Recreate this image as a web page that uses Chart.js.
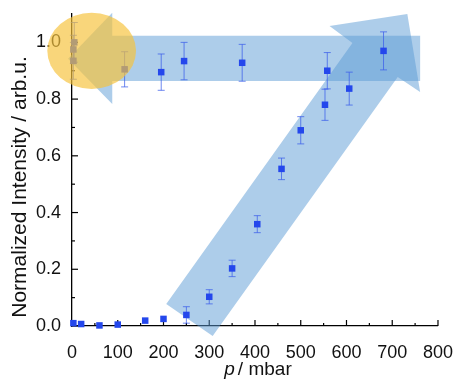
<!DOCTYPE html>
<html>
<head>
<meta charset="utf-8">
<script src="https://cdn.jsdelivr.net/npm/chart.js@4/dist/chart.umd.min.js"></script>
<style>
  html, body { margin: 0; padding: 0; background: #fff; }
</style>
</head>
<body>
<canvas id="myChart" width="461" height="383"></canvas>
<script>
// pressure going up
const upPressure  = [3, 20, 60, 100, 160, 200, 250, 300, 350, 405, 458, 500, 553, 606, 681];
const upIntensity = [0.01, 0.007, 0.002, 0.005, 0.019, 0.025, 0.039, 0.103, 0.203, 0.359, 0.554, 0.69, 0.78, 0.837, 0.97];
const upError     = [0, 0, 0, 0, 0, 0, 0.029, 0.025, 0.029, 0.03, 0.038, 0.048, 0.055, 0.058, 0.067];

// pressure going down
const downPressure  = [3, 3, 5, 115, 195, 245, 372, 558];
const downIntensity = [0.935, 0.975, 1.0, 0.905, 0.895, 0.934, 0.928, 0.9];
const downError     = [0.065, 0.05, 0.07, 0.062, 0.064, 0.066, 0.065, 0.064];

const xMajor = [0, 100, 200, 300, 400, 500, 600, 700, 800];
const yMajor = [0, 0.2, 0.4, 0.6, 0.8, 1.0];

// highlight shapes (in mbar / arb.u.)
const leftArrow = [[761, 1.023], [88, 1.023], [88, 1.104], [-8.6, 0.942], [88, 0.783], [88, 0.864], [761, 0.864]];
const upArrow   = [[206, 0.078], [613, 0.998], [563, 1.058], [733, 1.10], [761, 0.825], [712, 0.878], [307.5, -0.035]];
const ring      = { x: 43, y: 0.97, rx: 97, ry: 0.134 };

const FONT = "'Liberation Sans', Arial, sans-serif";

const toXY = (xs, ys) => xs.map((v, i) => ({ x: v, y: ys[i] }));

const extras = {
    id: 'extras',
    beforeDatasetsDraw(chart) {
        const { ctx, scales: { x, y } } = chart;
        ctx.save();

        // inward ticks
        ctx.strokeStyle = '#000';
        ctx.lineWidth = 1.2;
        const x0 = x.left, y0 = y.bottom;
        for (let v = 0; v <= 800; v += 50) {
            const px = x.getPixelForValue(v);
            const len = v % 100 === 0 ? 6 : 3;
            ctx.beginPath(); ctx.moveTo(px, y0); ctx.lineTo(px, y0 - len); ctx.stroke();
        }
        for (let k = 0; k <= 10; k++) {
            const py = y.getPixelForValue(k / 10);
            const len = k % 2 === 0 ? 6 : 3;
            ctx.beginPath(); ctx.moveTo(x0, py); ctx.lineTo(x0 + len, py); ctx.stroke();
        }

        // blue arrows
        ctx.fillStyle = 'rgba(91,155,213,0.5)';
        [leftArrow, upArrow].forEach(shape => {
            ctx.beginPath();
            shape.forEach(([a, b], i) => {
                const X = x.getPixelForValue(a), Y = y.getPixelForValue(b);
                i ? ctx.lineTo(X, Y) : ctx.moveTo(X, Y);
            });
            ctx.closePath();
            ctx.fill();
        });

        // error bars
        ctx.strokeStyle = 'rgba(60,95,235,0.75)';
        ctx.lineWidth = 1;
        chart.data.datasets.forEach(ds => {
            ds.data.forEach((p, i) => {
                const e = ds.errors[i];
                if (!e) return;
                const px = x.getPixelForValue(p.x);
                const top = y.getPixelForValue(p.y + e), bot = y.getPixelForValue(p.y - e);
                ctx.beginPath();
                ctx.moveTo(px, top); ctx.lineTo(px, bot);
                ctx.moveTo(px - 3.5, top); ctx.lineTo(px + 3.5, top);
                ctx.moveTo(px - 3.5, bot); ctx.lineTo(px + 3.5, bot);
                ctx.stroke();
            });
        });
        ctx.restore();
    },
    afterDatasetsDraw(chart) {
        const { ctx, scales: { x, y } } = chart;
        ctx.save();
        const cx = x.getPixelForValue(ring.x), cy = y.getPixelForValue(ring.y);
        const rx = x.getPixelForValue(ring.x + ring.rx) - cx;
        const ry = cy - y.getPixelForValue(ring.y + ring.ry);
        ctx.fillStyle = 'rgba(246,195,60,0.68)';
        ctx.beginPath();
        ctx.ellipse(cx, cy, rx, ry, 0, 0, Math.PI * 2);
        ctx.fill();

        // axis titles
        ctx.fillStyle = '#111';
        ctx.textBaseline = 'middle';
        ctx.font = 'italic 19px ' + FONT;
        const p = 'p', rest = '/ mbar';
        const wp = ctx.measureText(p).width;
        ctx.font = '19px ' + FONT;
        const wr = ctx.measureText(rest).width;
        const sx = 258 - (wp + 3 + wr) / 2;
        ctx.font = 'italic 19px ' + FONT;
        ctx.textAlign = 'left';
        ctx.fillText(p, sx, 370);
        ctx.font = '19px ' + FONT;
        ctx.fillText(rest, sx + wp + 3, 370);

        ctx.font = '21px ' + FONT;
        ctx.translate(20, 187);
        ctx.rotate(-Math.PI / 2);
        ctx.textAlign = 'center';
        ctx.fillText('Normalized Intensity / arb.u.', 0, 0);
        ctx.restore();
    }
};

const pointStyle = {
    showLine: false,
    pointStyle: 'rect',
    pointRadius: 4.6,
    pointHoverRadius: 4.6,
    backgroundColor: '#2447ec',
    borderColor: '#2447ec',
    borderWidth: 0,
    clip: false
};

new Chart(document.getElementById('myChart'), {
    type: 'scatter',
    data: {
        datasets: [
            { ...pointStyle, label: 'up', data: toXY(upPressure, upIntensity), errors: upError },
            { ...pointStyle, label: 'down', data: toXY(downPressure, downIntensity), errors: downError }
        ]
    },
    options: {
        responsive: false,
        animation: false,
        layout: { padding: { top: 14, right: 17, left: 0, bottom: 0 } },
        plugins: { legend: { display: false }, tooltip: { enabled: false } },
        scales: {
            x: {
                type: 'linear',
                min: 0,
                max: 800,
                afterFit: s => { s.height = 57; },
                afterBuildTicks: s => { s.ticks = xMajor.map(v => ({ value: v })); },
                grid: { display: false },
                border: { display: true, color: '#000', width: 1.3 },
                ticks: { color: '#111', padding: 8, maxRotation: 0, font: { family: FONT, size: 18 } }
            },
            y: {
                min: 0,
                max: 1.1,
                afterFit: s => { s.width = 72; },
                afterBuildTicks: s => { s.ticks = yMajor.map(v => ({ value: v })); },
                grid: { display: false },
                border: { display: true, color: '#000', width: 1.3 },
                ticks: {
                    color: '#111', padding: 3, font: { family: FONT, size: 18 },
                    callback: v => v.toFixed(1)
                }
            }
        }
    },
    plugins: [extras]
});
</script>
</body>
</html>
